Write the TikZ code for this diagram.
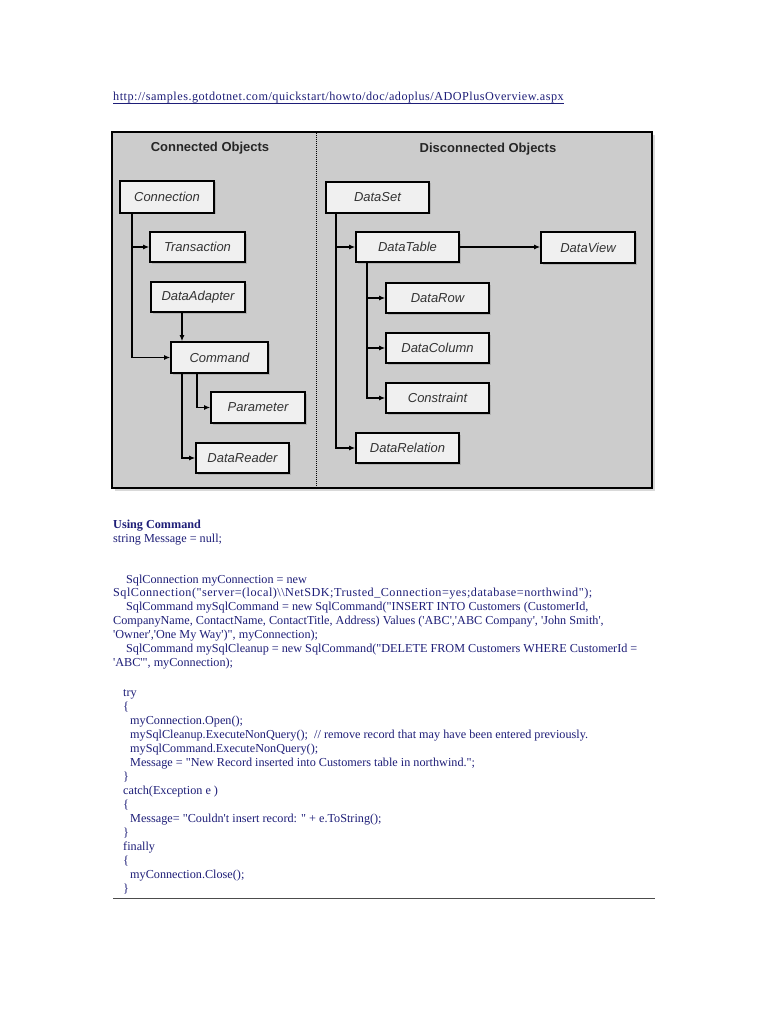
\documentclass[tikz,border=0pt]{standalone}
\usepackage{fontspec}
\setmainfont{Liberation Serif}
\newfontfamily\codefont{Liberation Serif}
\newfontfamily\diafont{Liberation Sans}
\usetikzlibrary{arrows.meta,shadows}
\definecolor{navy}{RGB}{30,30,120}
\definecolor{framegray}{RGB}{204,204,204}
\definecolor{boxfill}{RGB}{240,240,240}
\tikzset{
  obj/.style={draw=black, line width=1.6pt, fill=boxfill, inner sep=0pt,
    drop shadow={shadow xshift=1.5pt, shadow yshift=-1.5pt, fill=black!40, opacity=0.5},
    font=\diafont\itshape\fontsize{13}{15}\selectfont, text=black!80},
  arr/.style={line width=1.5pt, -{Latex[length=6pt,width=5pt]}},
  ttl/.style={font=\diafont\bfseries\fontsize{13}{15}\selectfont, text=black!85},
  code/.style={anchor=base west, inner sep=0pt, text=navy,
    font=\codefont\fontsize{12.2}{14}\selectfont},
}
\begin{document}
\begin{tikzpicture}[x=1pt,y=-1pt]
\useasboundingbox[fill=white] (0,0) rectangle (768,1024);

% URL
\node[code, font=\codefont\fontsize{12.2}{14}\selectfont\addfontfeature{LetterSpace=4}] (url) at (113,101) {http://samples.gotdotnet.com/quickstart/howto/doc/adoplus/ADOPlusOverview.aspx};
\draw[navy, line width=0.8pt] ([yshift=-2pt]url.base west) -- ([yshift=-2pt]url.base east);

% frame
\fill[gray!30] (115,135) rectangle (655,491);
\draw[line width=1.6pt, fill=framegray] (112,132) rectangle (652,488);
\draw[line width=1pt, dash pattern=on 1pt off 1pt] (316,133) -- (316,487);

\node[ttl] (tc) at (210,148) {Connected Objects};
\node[ttl] (td) at (488,149) {Disconnected Objects};

% left nodes
\node[obj, minimum width=94pt, minimum height=32pt] (conn) at (167,197) {Connection};
\node[obj, minimum width=95pt, minimum height=30pt] (trans) at (197.5,247) {Transaction};
\node[obj, minimum width=94pt, minimum height=30pt] (da) at (198,297) {DataAdapter};
\node[obj, minimum width=97pt, minimum height=31pt] (cmd) at (219.5,357.5) {Command};
\node[obj, minimum width=94pt, minimum height=31pt] (par) at (258,407.5) {Parameter};
\node[obj, minimum width=93pt, minimum height=30pt] (dr) at (242.5,458) {DataReader};

% right nodes
\node[obj, minimum width=103pt, minimum height=31pt] (ds) at (377.5,197.5) {DataSet};
\node[obj, minimum width=103pt, minimum height=30pt] (dt) at (407.5,247) {DataTable};
\node[obj, minimum width=94pt, minimum height=31pt] (dv) at (588,247.5) {DataView};
\node[obj, minimum width=103pt, minimum height=30pt] (drow) at (437.5,298) {DataRow};
\node[obj, minimum width=103pt, minimum height=30pt] (dcol) at (437.5,348) {DataColumn};
\node[obj, minimum width=103pt, minimum height=30pt] (cons) at (437.5,398) {Constraint};
\node[obj, minimum width=103pt, minimum height=30pt] (drel) at (407.5,448) {DataRelation};

% connectors left
\draw[arr] ([xshift=-35pt]conn.south) |- (trans.west);
\draw[arr] ([xshift=-35pt]conn.south) |- (cmd.west);
\draw[arr] ([xshift=-16pt]da.south) -- ([xshift=-16pt]da.south |- cmd.north);
\draw[arr] ([xshift=-22.5pt]cmd.south) |- (par.west);
\draw[arr] ([xshift=-37.5pt]cmd.south) |- (dr.west);

% connectors right
\draw[arr] ([xshift=-41.5pt]ds.south) |- (dt.west);
\draw[arr] ([xshift=-41.5pt]ds.south) |- (drel.west);
\draw[arr] (dt.east) -- (dt.east -| dv.west);
\draw[arr] ([xshift=-40.5pt]dt.south) |- (drow.west);
\draw[arr] ([xshift=-40.5pt]dt.south) |- (dcol.west);
\draw[arr] ([xshift=-40.5pt]dt.south) |- (cons.west);

% code text
\node[code, font=\codefont\bfseries\fontsize{12.2}{14}\selectfont] (l1) at (113,528) {Using Command};
\node[code] (l2) at (113,542) {string Message = null;};
\node[code] (l3) at (126,583) {SqlConnection myConnection = new};
\node[code, font=\codefont\fontsize{12.2}{14}\selectfont\addfontfeature{LetterSpace=4}] (l4) at (113,596) {SqlConnection("server=(local)\textbackslash\textbackslash NetSDK;Trusted\_Connection=yes;database=northwind");};
\node[code] (l5) at (126,610) {SqlCommand mySqlCommand = new SqlCommand("INSERT INTO Customers (CustomerId,};
\node[code] (l6) at (113,624) {CompanyName, ContactName, ContactTitle, Address) Values ('ABC','ABC Company', 'John Smith',};
\node[code] (l7) at (113,638) {'Owner','One My Way')", myConnection);};
\node[code] (l8) at (126,652) {SqlCommand mySqlCleanup = new SqlCommand("DELETE FROM Customers WHERE CustomerId =};
\node[code] (l9) at (113,666) {'ABC'", myConnection);};
\node[code] (l10) at (123,696) {try};
\node[code] (l11) at (123,710) {\{};
\node[code] (l12) at (130,724) {myConnection.Open();};
\node[code] (l13) at (130,738) {mySqlCleanup.ExecuteNonQuery();\ \ // remove record that may have been entered previously.};
\node[code] (l14) at (130,752) {mySqlCommand.ExecuteNonQuery();};
\node[code] (l15) at (130,766) {Message = "New Record inserted into Customers table in northwind.";};
\node[code] (l16) at (123,780) {\}};
\node[code] (l17) at (123,794) {catch(Exception e )};
\node[code] (l18) at (123,808) {\{};
\node[code] (l19) at (130,822) {Message= "Couldn't insert record: " + e.ToString();};
\node[code] (l20) at (123,836) {\}};
\node[code] (l21) at (123,850) {finally};
\node[code] (l22) at (123,864) {\{};
\node[code] (l23) at (130,878) {myConnection.Close();};
\node[code] (l24) at (123,892) {\}};

% rule
\draw[line width=1.6pt, black!70] (113,898.5) -- (655,898.5);
\end{tikzpicture}
\end{document}
